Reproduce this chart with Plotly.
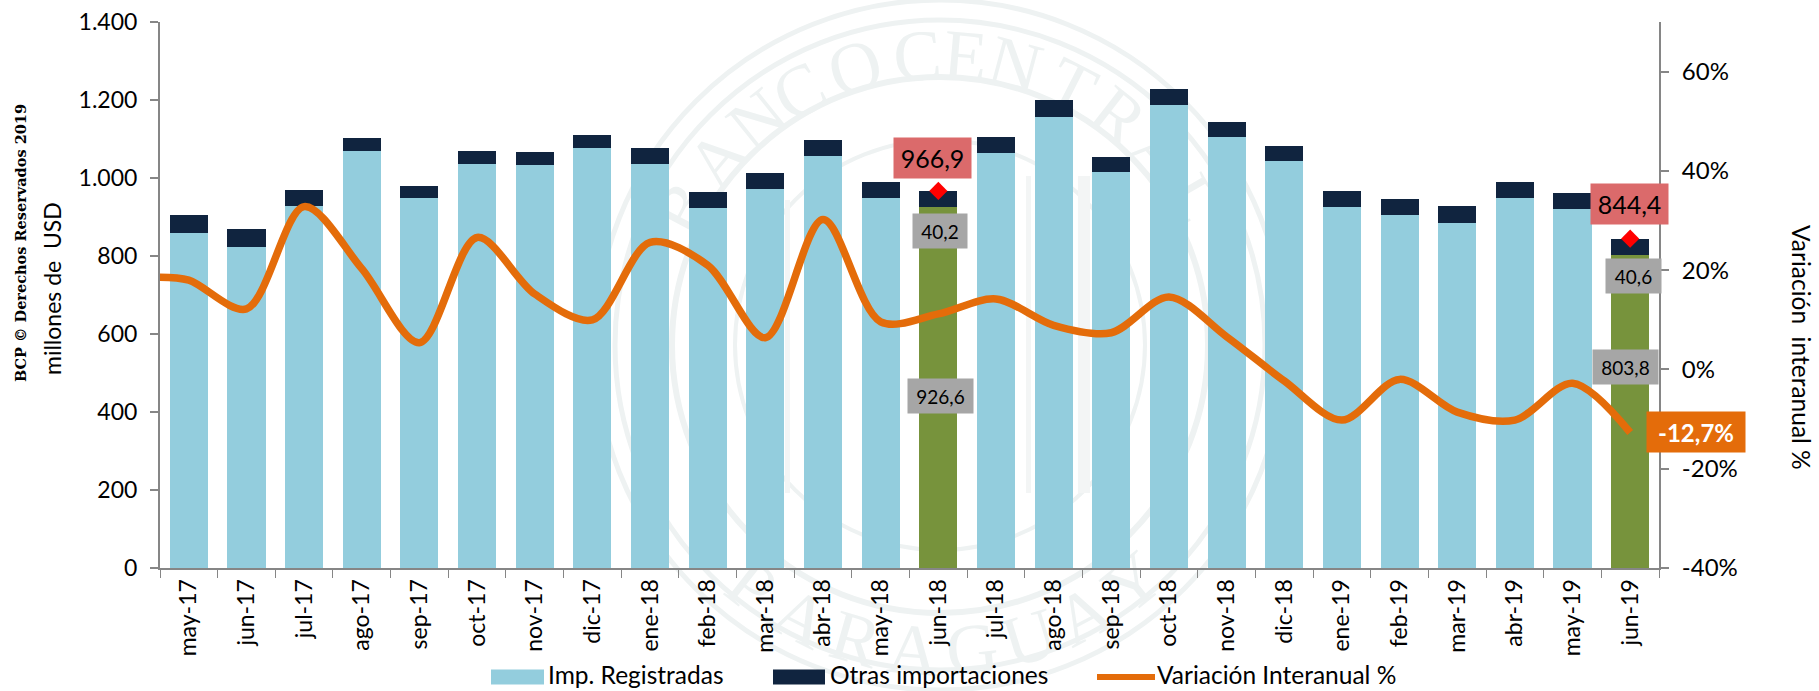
import math
import plotly.graph_objects as go

categories = ["may-17","jun-17","jul-17","ago-17","sep-17","oct-17","nov-17","dic-17","ene-18","feb-18","mar-18","abr-18","may-18",
              "jun-18","jul-18","ago-18","sep-18","oct-18","nov-18","dic-18","ene-19","feb-19","mar-19","abr-19","may-19","jun-19"]
registradas = [860,824,928,1069,950,1036,1033,1076,1035,923,971,1056,950,926.6,1064,1156,1015,1187,1104,1044,925,905,885,948,920,803.8]
otras = [44,46,41,33,30,33,34,35,41,41,41,41,41,40.2,41,44,39,40,39,39,42,41,42,41,41,40.6]
variacion = [18.0,12.2,32.8,20.3,5.4,26.6,15.2,10.0,25.6,21.0,6.4,30.2,9.6,11.2,14.2,8.9,7.4,14.6,6.6,-2.3,-10.2,-2.0,-8.6,-10.2,-2.8,-12.7]
variacion_inicio = 18.6
destacados = ["jun-18","jun-19"]
totales_destacados = [966.9,844.4]
left_ticks = [0,200,400,600,800,1000,1200,1400]
right_ticks = [-40,-20,0,20,40,60]

W, H = 1819, 691
PL, PR, PT, PB = 160, 1659, 22, 568
X = lambda p: (p - PL) / (PR - PL)
Y = lambda p: (PB - p) / (PB - PT)
FONT = "Lato"
BLUE, NAVY, GREEN, ORANGE = "#93CDDD", "#10243F", "#77933C", "#E46C0A"
SEAL = "#EEF2F2"

bar_colors = [GREEN if c in destacados else BLUE for c in categories]

fig = go.Figure()
fig.add_bar(x=categories, y=registradas, name="Imp. Registradas", marker=dict(color=bar_colors, line_width=0))
fig.add_bar(x=categories, y=otras, name="Otras importaciones", marker=dict(color=NAVY, line_width=0))
fig.add_scatter(x=destacados, y=totales_destacados, mode="markers", name="Total",
                marker=dict(symbol="diamond", size=14, color="#FF0000", line_width=0))
fig.add_scatter(x=[-0.5] + list(range(len(categories))), y=[variacion_inicio] + variacion, xaxis="x2", yaxis="y2", mode="lines",
                name="Variación Interanual %", line=dict(color=ORANGE, width=7.5, shape="spline", smoothing=0.9))

shapes, annotations = [], []

# watermark seal, below the plot
cx, cy = 940, 345
def ring(r, w=5):
    shapes.append(dict(type="circle", xref="paper", yref="paper", layer="below",
                       x0=X(cx - r), x1=X(cx + r), y0=Y(cy + r), y1=Y(cy - r),
                       line=dict(color=SEAL, width=w), fillcolor="rgba(0,0,0,0)"))
for r, w in [(345, 5), (325, 5), (268, 6), (205, 4)]:
    ring(r, w)
def seal_letter(ch, deg, r=298, flip=False):
    a = math.radians(deg)
    px, py = cx + r * math.sin(a), cy - r * math.cos(a)
    shapes.append(dict(type="rect", xref="paper", yref="paper", layer="below",
                       x0=X(px - 1), x1=X(px + 1), y0=Y(py + 1), y1=Y(py - 1), line_width=0,
                       label=dict(text=ch, textposition="middle center", textangle=(deg - 180 if flip else deg),
                                  font=dict(family="Liberation Serif", size=72, color=SEAL))))
for ch, deg in zip("BANCOCENTRAL", [-62,-50,-39,-29,-17,-4.5,5,15,27,38,49,60]):
    seal_letter(ch, deg)
for ch, deg in zip("PARAGUAY", [38,27,16,5,-6,-17,-28,-39]):
    seal_letter(ch, 180 + deg, flip=True)
for px0, px1, py0, py1 in [(1026,1031,176,493),(1078,1090,176,493),(785,790,200,493)]:
    shapes.append(dict(type="rect", xref="paper", yref="paper", layer="below",
                       x0=X(px0), x1=X(px1), y0=Y(py1), y1=Y(py0), line_width=0, fillcolor="#F3F5F5"))

# value boxes
def box(text, x0, x1, y0, y1, bg, size, color="#000000"):
    annotations.append(dict(xref="paper", yref="paper", x=X((x0 + x1) / 2), y=Y((y0 + y1) / 2),
                            text=text, showarrow=False, xanchor="center", yanchor="middle",
                            width=x1 - x0, height=y1 - y0, bgcolor=bg, borderpad=0,
                            font=dict(family=FONT, size=size, color=color)))
RED_BOX, GREY = "#DB6A6B", "#A6A6A6"
box("966,9", 894, 971, 138, 178, RED_BOX, 25)
box("40,2", 913, 967, 214, 248, GREY, 19)
box("926,6", 908, 973, 379, 413, GREY, 19)
box("844,4", 1591, 1668, 184, 224, RED_BOX, 25)
box("40,6", 1606, 1661, 259, 293, GREY, 19)
box("803,8", 1593, 1658, 350, 384, GREY, 19)
box("<b>-12,7%</b>", 1647, 1745, 412, 452, ORANGE, 24, "#FFFFFF")

# axis titles
def vtext(text, x, y, angle, size, family=FONT, color="#000000"):
    annotations.append(dict(xref="paper", yref="paper", x=X(x), y=Y(y), text=text, showarrow=False,
                            textangle=angle, xanchor="center", yanchor="middle",
                            font=dict(family=family, size=size, color=color)))
vtext("<b>BCP © Derechos Reservados 2019</b>", 20, 243, -90, 14.5, "DejaVu Serif")
vtext("millones de  USD", 52, 289, -90, 23)
vtext("Variación  interanual %", 1802, 348, 90, 24.5)

# legend
LEG_Y = 677
def swatch(x0, x1, color, h):
    shapes.append(dict(type="rect", xref="paper", yref="paper", x0=X(x0), x1=X(x1),
                       y0=Y(LEG_Y + h / 2), y1=Y(LEG_Y - h / 2), line_width=0, fillcolor=color))
def leg_text(text, x):
    annotations.append(dict(xref="paper", yref="paper", x=X(x), y=Y(LEG_Y - 2.5), text=text, showarrow=False,
                            xanchor="left", yanchor="middle", font=dict(family=FONT, size=24.5, color="#000000")))
swatch(491, 544, BLUE, 15); leg_text("Imp. Registradas", 546)
swatch(773, 825, NAVY, 15); leg_text("Otras importaciones", 828)
swatch(1097, 1155, ORANGE, 6); leg_text("Variación Interanual %", 1155)

axis_line = dict(showline=True, linecolor="#868686", linewidth=2, ticks="outside", tickcolor="#868686",
                 showgrid=False, zeroline=False)
fig.update_layout(
    width=W, height=H, barmode="stack", bargap=0.34, showlegend=False, separators=",.",
    paper_bgcolor="rgba(0,0,0,0)", plot_bgcolor="rgba(0,0,0,0)",
    margin=dict(l=PL, r=W - PR, t=PT, b=H - PB, autoexpand=False),
    font=dict(family=FONT, color="#000000"),
    xaxis=dict(type="category", categoryorder="array", categoryarray=categories, range=[-0.5, len(categories) - 0.5],
               tickson="boundaries", tickangle=-90, ticklen=8, tickwidth=1, tickfont=dict(size=23),
               showline=True, linecolor="#868686", linewidth=2, ticks="outside", tickcolor="#868686", showgrid=False),
    xaxis2=dict(type="linear", overlaying="x", range=[-0.5, len(categories) - 0.5], visible=False),
    yaxis=dict(range=[0, 1400], tickvals=left_ticks, tickformat=",d", ticklen=8, tickwidth=2,
               tickfont=dict(size=23), ticklabelstandoff=8, **axis_line),
    yaxis2=dict(overlaying="y", side="right", range=[-40, 70], tickvals=right_ticks,
                ticktext=[f"{v}%" for v in right_ticks], ticklen=8, tickwidth=2,
                tickfont=dict(size=24), ticklabelstandoff=8, **axis_line),
    shapes=shapes, annotations=annotations,
)
fig.write_html("out.html", config={"displayModeBar": False},
               post_script="document.body.style.margin='0';document.body.style.overflow='hidden';")
